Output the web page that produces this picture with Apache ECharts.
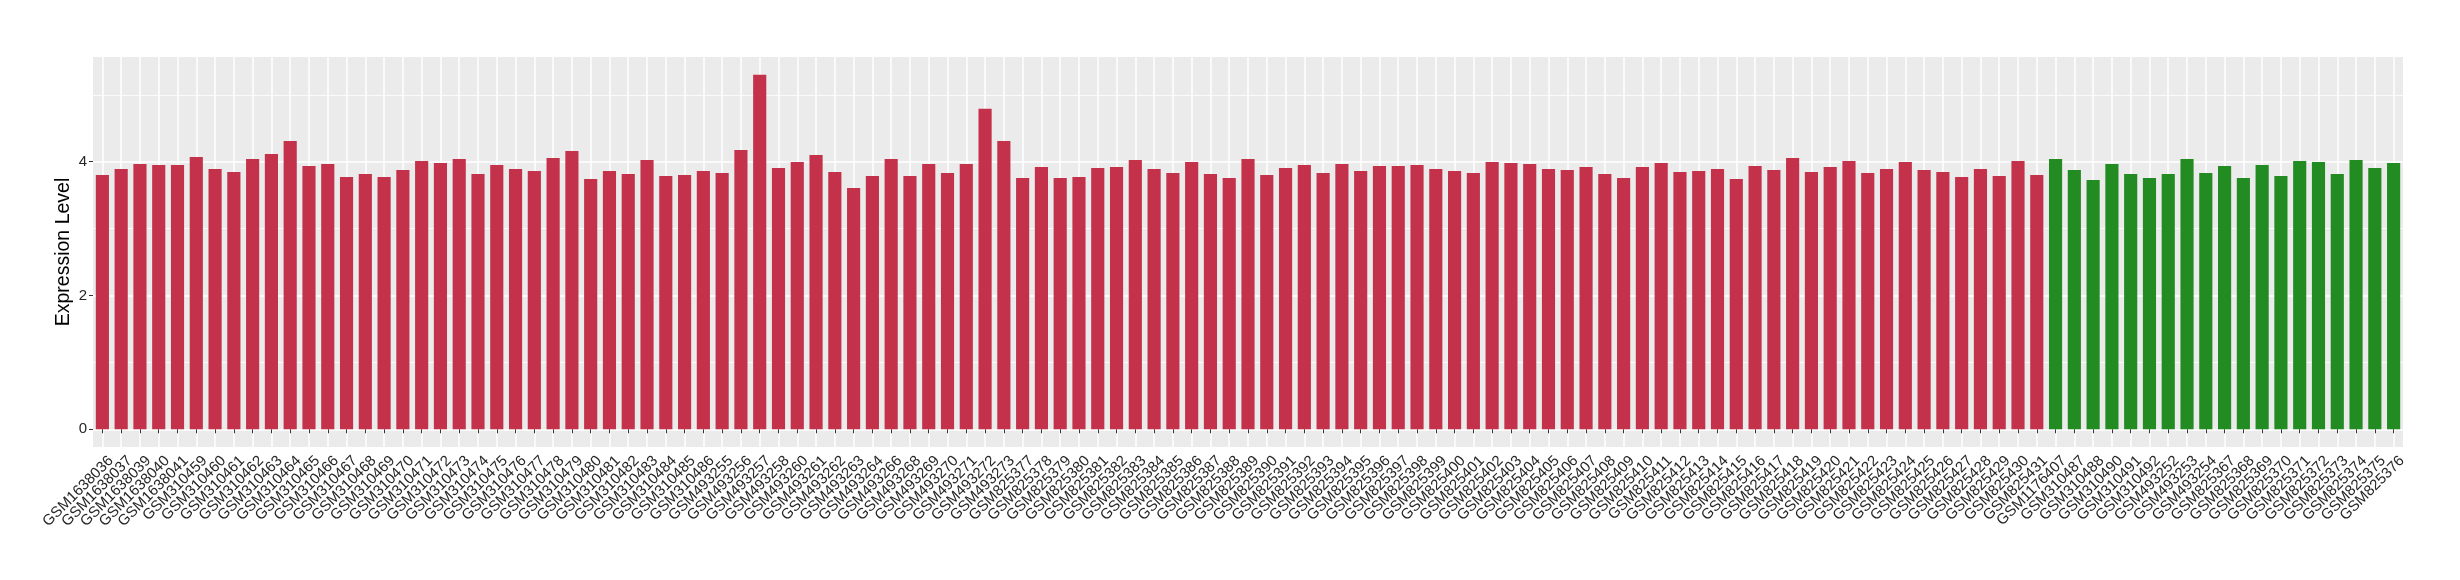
<!DOCTYPE html>
<html>
<head>
<meta charset="utf-8">
<script src="https://cdn.jsdelivr.net/npm/echarts@6/dist/echarts.min.js"></script>
<style>
html,body{margin:0;padding:0;background:#fff;}
#chart{width:2460px;height:580px;}
</style>
</head>
<body>
<div id="chart"></div>
<script>
// Samples of the first group (red bars)
const redSamples = [
  "GSM1638036","GSM1638037","GSM1638039","GSM1638040","GSM1638041",
  "GSM310459","GSM310460","GSM310461","GSM310462","GSM310463","GSM310464","GSM310465",
  "GSM310466","GSM310467","GSM310468","GSM310469","GSM310470","GSM310471","GSM310472",
  "GSM310473","GSM310474","GSM310475","GSM310476","GSM310477","GSM310478","GSM310479",
  "GSM310480","GSM310481","GSM310482","GSM310483","GSM310484","GSM310485","GSM310486",
  "GSM493255","GSM493256","GSM493257","GSM493258","GSM493260","GSM493261","GSM493262",
  "GSM493263","GSM493264","GSM493266","GSM493268","GSM493269","GSM493270","GSM493271",
  "GSM493272","GSM493273",
  "GSM825377","GSM825378","GSM825379","GSM825380","GSM825381","GSM825382","GSM825383",
  "GSM825384","GSM825385","GSM825386","GSM825387","GSM825388","GSM825389","GSM825390",
  "GSM825391","GSM825392","GSM825393","GSM825394","GSM825395","GSM825396","GSM825397",
  "GSM825398","GSM825399","GSM825400","GSM825401","GSM825402","GSM825403","GSM825404",
  "GSM825405","GSM825406","GSM825407","GSM825408","GSM825409","GSM825410","GSM825411",
  "GSM825412","GSM825413","GSM825414","GSM825415","GSM825416","GSM825417","GSM825418",
  "GSM825419","GSM825420","GSM825421","GSM825422","GSM825423","GSM825424","GSM825425",
  "GSM825426","GSM825427","GSM825428","GSM825429","GSM825430","GSM825431"
];
const redValues = [
  3.80,3.89,3.965,3.95,3.95,
  4.07,3.89,3.845,4.04,4.115,4.31,3.935,
  3.965,3.77,3.815,3.77,3.875,4.01,3.98,
  4.04,3.815,3.95,3.89,3.86,4.055,4.16,
  3.74,3.86,3.815,4.025,3.785,3.80,3.86,
  3.83,4.175,5.30,3.905,3.995,4.10,3.845,
  3.605,3.785,4.04,3.785,3.965,3.83,3.965,
  4.79,4.31,
  3.755,3.92,3.755,3.77,3.905,3.92,4.025,
  3.89,3.83,3.995,3.815,3.755,4.04,3.80,
  3.905,3.95,3.83,3.965,3.86,3.935,3.935,
  3.95,3.89,3.86,3.83,3.995,3.98,3.965,
  3.89,3.875,3.92,3.815,3.755,3.92,3.98,
  3.845,3.86,3.89,3.74,3.935,3.875,4.055,
  3.845,3.92,4.01,3.83,3.89,3.995,3.875,
  3.845,3.77,3.89,3.785,4.01,3.80
];
// Samples of the second group (green bars)
const greenSamples = [
  "GSM1176407","GSM310487","GSM310488","GSM310490","GSM310491","GSM310492",
  "GSM493252","GSM493253","GSM493254",
  "GSM825367","GSM825368","GSM825369","GSM825370","GSM825371","GSM825372",
  "GSM825373","GSM825374","GSM825375","GSM825376"
];
const greenValues = [
  4.04,3.875,3.725,3.965,3.815,3.755,
  3.815,4.04,3.83,
  3.935,3.755,3.95,3.785,4.01,3.995,
  3.815,4.025,3.905,3.98
];
const yMajorTicks = [0, 2, 4];
const yMinorLines = [1, 3, 5];
const yRange = [-0.265, 5.565];

const RED = '#C3314A';
const GREEN = '#228B22';
const FONT = '"Liberation Sans", Arial, Helvetica, sans-serif';

const categories = redSamples.concat(greenSamples);
const barData = redValues.map(v => ({ value: v, itemStyle: { color: RED } }))
  .concat(greenValues.map(v => ({ value: v, itemStyle: { color: GREEN } })));
// helper axis positions: half-band steps so odd indices fall on bar centres
const helperPositions = Array.from({ length: 2 * categories.length + 1 }, (_, j) => String(j));

const chart = echarts.init(document.getElementById('chart'), null, { renderer: 'canvas' });
chart.setOption({
  animation: false,
  backgroundColor: '#FFFFFF',
  textStyle: { fontFamily: FONT },
  grid: {
    left: 93, right: 57, top: 57, bottom: 133,
    show: true, backgroundColor: '#EBEBEB', borderWidth: 0
  },
  xAxis: [
    {
      type: 'category',
      data: categories,
      boundaryGap: true,
      position: 'bottom',
      axisLine: { show: false },
      axisTick: { show: true, alignWithLabel: true, length: 4, lineStyle: { color: '#333333', width: 1 } },
      axisLabel: {
        interval: 0, rotate: 45, fontSize: 15, color: '#262626', fontFamily: FONT,
        margin: 20, padding: [0, -12, 0, 0]
      },
      splitLine: { show: false }
    },
    {
      type: 'category',
      data: helperPositions,
      boundaryGap: false,
      position: 'bottom',
      axisLine: { show: false },
      axisTick: { show: false },
      axisLabel: { show: false },
      splitLine: {
        show: true,
        interval: (idx) => idx % 2 === 1,
        lineStyle: { color: '#FFFFFF', width: 1.5 }
      }
    }
  ],
  yAxis: [
    {
      type: 'value',
      min: yRange[0], max: yRange[1],
      position: 'left',
      name: 'Expression Level',
      nameLocation: 'middle',
      nameGap: 19,
      nameMoveOverlap: false,
      nameTextStyle: { fontSize: 19.5, color: '#000000', fontFamily: FONT },
      axisLine: { show: false },
      axisTick: { show: true, length: 4, customValues: yMajorTicks, lineStyle: { color: '#333333', width: 1 } },
      axisLabel: { customValues: yMajorTicks, fontSize: 15, color: '#262626', margin: 6, fontFamily: FONT },
      splitLine: { show: true, lineStyle: { color: '#FFFFFF', width: 1.5 } }
    },
    {
      type: 'value',
      min: yRange[0], max: yRange[1],
      position: 'left',
      axisLine: { show: false },
      axisTick: { show: false, customValues: yMinorLines },
      axisLabel: { show: false },
      splitLine: { show: true, lineStyle: { color: '#FFFFFF', width: 0.8 } }
    }
  ],
  series: [
    {
      type: 'bar',
      xAxisIndex: 0,
      yAxisIndex: 0,
      data: barData,
      barWidth: '70%',
      z: 3
    }
  ]
});
</script>
</body>
</html>
